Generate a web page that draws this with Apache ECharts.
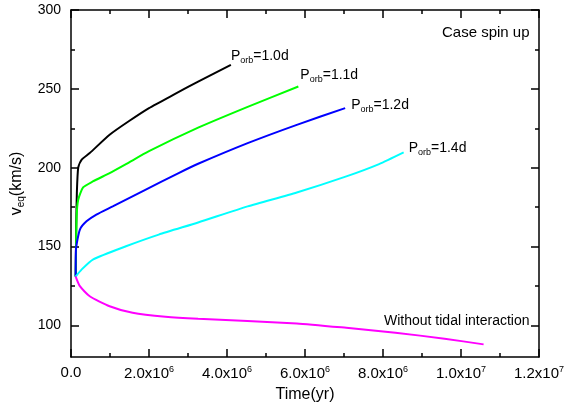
<!DOCTYPE html>
<html>
<head>
<meta charset="utf-8">
<script src="https://cdn.jsdelivr.net/npm/echarts@6/dist/echarts.min.js"></script>
<style>
  html, body { margin: 0; padding: 0; background: #fff; }
  #chart { width: 567px; height: 419px; }
</style>
</head>
<body>
<div id="chart"></div>
<script>
// values (time in yr, v_eq in km/s)
const porb10Time = [1.2e5, 1.35e5, 1.5e5, 1.85e5, 2.7e5, 4.8e5, 9.9e5, 1.49e6, 2.0e6, 2.67e6, 3.26e6, 4.1e6];
const porb10Veq  = [131, 165, 184, 200, 205, 209.3, 220.9, 229.6, 237.8, 246.8, 254.6, 265.2];

const porb11Time = [1.2e5, 1.45e5, 1.85e5, 3.1e5, 5.6e5, 9.9e5, 1.41e6, 2.0e6, 3.26e6, 4.53e6, 5.83e6];
const porb11Veq  = [131, 169, 179.7, 187.5, 191.3, 196.6, 202.3, 210.5, 225.4, 238.6, 251.5];

const porb12Time = [1.2e5, 1.27e5, 2.28e5, 3.97e5, 6.5e5, 1.07e6, 1.83e6, 2.76e6, 3.26e6, 4.53e6, 5.79e6, 7.03e6];
const porb12Veq  = [131, 148, 160.8, 166, 170.3, 175.5, 185, 196.6, 202.5, 215.6, 227.2, 237.8];

const porb14Time = [1.2e5, 2.7e5, 5.6e5, 1.41e6, 2.25e6, 3.26e6, 4.53e6, 5.79e6, 7.06e6, 7.9e6, 8.53e6];
const porb14Veq  = [131, 135.4, 141.8, 150.2, 157.6, 165.3, 175.5, 184.3, 194.5, 202.3, 209.7];

const noTideTime = [1.2e5, 2.28e5, 4.8e5, 9.9e5, 1.58e6, 2.42e6, 3.26e6, 5.79e6, 7.06e6, 8.32e6, 9.58e6, 1.058e7];
const noTideVeq  = [131, 124.9, 118.5, 112.2, 108, 105.5, 104.2, 101.3, 98.5, 95.4, 91.6, 88];

const yMajorTicks = [100, 150, 200, 250, 300];
const yMinorTicks = [125, 175, 225, 275];
const xTickLabels = ['0.0', '2.0x10|6', '4.0x10|6', '6.0x10|6', '8.0x10|6', '1.0x10|7', '1.2x10|7'];

const seriesDefs = [
  { name: '1.0d', time: porb10Time, veq: porb10Veq, color: '#000000', offset: [-8, -9] },
  { name: '1.1d', time: porb11Time, veq: porb11Veq, color: '#00ff00', offset: [-6, -11] },
  { name: '1.2d', time: porb12Time, veq: porb12Veq, color: '#0000ff', offset: [-2, -3] },
  { name: '1.4d', time: porb14Time, veq: porb14Veq, color: '#00ffff', offset: [-3, -4] },
  { name: 'none', time: noTideTime, veq: noTideVeq, color: '#ff00ff', offset: null }
];

const font = 'Liberation Sans, Arial, sans-serif';
const chart = echarts.init(document.getElementById('chart'));

const labelRich = {
  p: { fontSize: 14, fontFamily: font, color: '#000' },
  sub: { fontSize: 9, fontFamily: font, color: '#000', padding: [9, 0, 0, 0] }
};

const series = seriesDefs.map(s => ({
  name: s.name,
  type: 'line',
  xAxisIndex: 0,
  yAxisIndex: 0,
  showSymbol: false,
  smooth: 0.2,
  lineStyle: { color: s.color, width: 2 },
  itemStyle: { color: s.color },
  data: s.time.map((t, i) => [t, s.veq[i]]),
  endLabel: s.offset ? {
    show: true,
    offset: s.offset,
    formatter: '{p|P}{sub|orb}{p|=' + s.name + '}',
    rich: labelRich
  } : { show: false },
  silent: true
}));

const xBase = {
  type: 'value', min: 0, max: 1.2e7, interval: 2e6,
  axisLine: { show: true, onZero: false, lineStyle: { color: '#000', width: 1.5 } },
  axisTick: { show: true, inside: true, length: 8, lineStyle: { color: '#000', width: 1.5 } },
  minorTick: { show: true, splitNumber: 2, length: 4, lineStyle: { color: '#000', width: 1.5 } },
  splitLine: { show: false }
};

function yAxisDef(position, ticks, len, withLine) {
  return {
    type: 'value', min: 80, max: 300, position: position,
    axisLine: { show: withLine, onZero: false, lineStyle: { color: '#000', width: 1.5 } },
    axisTick: { show: true, inside: true, length: len, customValues: ticks, lineStyle: { color: '#000', width: 1.5 } },
    axisLabel: { show: false },
    splitLine: { show: false }
  };
}

const yLeft = yAxisDef('left', yMajorTicks, 8, true);
yLeft.axisLabel = {
  show: true, customValues: yMajorTicks, fontSize: 14, fontFamily: font, color: '#000', margin: 10
};
yLeft.name = '{p|v}{s|eq}{p|(km/s)}';
yLeft.nameLocation = 'middle';
yLeft.nameGap = 44;
yLeft.nameRotate = 90;
yLeft.nameTextStyle = {
  rich: {
    p: { fontSize: 16, fontFamily: font, color: '#000' },
    s: { fontSize: 10, fontFamily: font, color: '#000', padding: [10, 0, 0, 0] }
  }
};

chart.setOption({
  animation: false,
  backgroundColor: '#fff',
  grid: { left: 71, top: 10, width: 475, height: 347, containLabel: false },
  xAxis: [
    Object.assign({}, xBase, {
      position: 'bottom',
      name: 'Time(yr)', nameLocation: 'middle', nameGap: 30,
      nameTextStyle: { fontSize: 16, fontFamily: font, color: '#000' },
      axisLabel: {
        show: true, margin: 8,
        formatter: (v) => {
          const parts = xTickLabels[Math.round(v / 2e6)].split('|');
          return parts.length > 1 ? '{b|' + parts[0] + '}{s|' + parts[1] + '}' : '{b|' + parts[0] + '}';
        },
        rich: {
          b: { fontSize: 15, fontFamily: font, color: '#000' },
          s: { fontSize: 9, fontFamily: font, color: '#000', padding: [0, 0, 9, 0] }
        }
      }
    }),
    Object.assign({}, xBase, { position: 'top', axisLabel: { show: false } })
  ],
  yAxis: [
    yLeft,
    yAxisDef('left', yMinorTicks, 4, false),
    yAxisDef('right', yMajorTicks, 8, true),
    yAxisDef('right', yMinorTicks, 4, false)
  ],
  graphic: [
    { type: 'text', left: 442, top: 25,
      style: { text: 'Case spin up', font: '15px ' + font, fill: '#000' } },
    { type: 'text', left: 384, top: 314,
      style: { text: 'Without tidal interaction', font: '14px ' + font, fill: '#000' } }
  ],
  series: series
});
</script>
</body>
</html>
